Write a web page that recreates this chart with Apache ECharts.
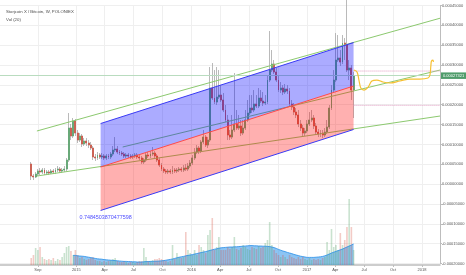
<!DOCTYPE html>
<html><head><meta charset="utf-8">
<script src="https://cdn.jsdelivr.net/npm/echarts@6/dist/echarts.min.js"></script>
<style>html,body{margin:0;padding:0;background:#fff}#c{width:466px;height:275px}</style>
</head><body><div id="c"></div>
<script>
// ---- data (prices in satoshi, 1e-8 BTC) ----
const firstWeek = '2014-08-11';
const opens = [5060,2040,1790,2540,3300,3050,3550,2800,3050,2800,
3300,3050,3550,3800,3300,3550,3800,6070,14130,12120,
15900,12870,11110,12120,10100,10860,10350,9850,9090,6830,
6580,7330,6830,7080,6580,7080,6830,7580,8590,8840,
8090,7830,7580,7080,7330,7080,6830,7080,7330,6830,
6580,5570,6070,7330,7080,7580,7830,7080,6070,4810,
3800,3300,3050,3300,3050,3550,3300,3550,3800,3550,
4060,3800,4560,5320,6580,8090,9090,8340,10610,11860,
9850,11110,24210,21690,20680,21940,22440,21190,18670,16150,
12370,11860,13630,15140,14130,14640,12870,14130,16150,17910,
19170,18670,20180,19670,21690,20930,20430,20680,26220,28740,
30250,28240,26220,23700,24210,23200,23960,23450,20180,19420,
18160,17410,15140,14130,12870,13380,15140,16150,16650,14640,
13120,12620,12870,12370,13120,14380,19170,23700,26220,31260,
31770,30760,35540,35040,28740,29250,23700];
const closes = [2040,1790,2540,3300,3050,3550,2800,3050,2800,3300,
3050,3550,3800,3300,3550,3800,6070,14130,12120,15900,
12870,11110,12120,10100,10860,10350,9850,9090,6830,6580,
7330,6830,7080,6580,7080,6830,7580,8590,8840,8090,
7830,7580,7080,7330,7080,6830,7080,7330,6830,6580,
5570,6070,7330,7080,7580,7830,7080,6070,4810,3800,
3300,3050,3300,3050,3550,3300,3550,3800,3550,4060,
3800,4560,5320,6580,8090,9090,8340,10610,11860,9850,
11110,24210,21690,20680,21940,22440,21190,18670,16150,12370,
11860,13630,15140,14130,14640,12870,14130,16150,17910,19170,
18670,20180,19670,21690,20930,20430,20680,26220,28740,30250,
28240,26220,23700,24210,23200,23960,23450,20180,19420,18160,
17410,15140,14130,12870,13380,15140,16150,16650,14640,13120,
12620,12870,12370,13120,14380,19170,23700,26220,31260,31770,
30760,35540,35040,28740,29250,23700,27321];
const highs = [5570,2540,3050,3800,4060,4060,4060,3550,3550,3800,
3800,4060,4560,4310,4060,4560,6580,17910,15140,16650,
16400,13630,12870,12620,11610,11610,11110,10610,9600,7580,
8090,7830,7830,7580,7580,7580,8090,9600,11860,9600,
8590,8340,8090,7830,7830,7580,7580,7830,7830,7330,
7080,6580,7830,8090,8340,9350,8340,7580,6580,5320,
4310,3800,3800,3800,4560,4060,4060,4310,4310,4810,
5060,5320,6070,7330,9090,9850,9600,11110,13630,12370,
11860,29500,30510,28740,29500,28740,24960,22950,19930,17410,
13630,17410,27990,18670,17410,16150,16150,18670,21190,22440,
22440,23700,22440,24210,23700,23200,22440,27480,38570,33780,
31260,29250,27480,25720,24960,25220,24960,24210,21190,20430,
19170,18670,16150,14890,14130,16150,18160,18670,17410,15390,
13880,13630,13630,14130,16150,19930,24960,28740,38060,37560,
33780,37560,36800,46380,31260,30000,28240];
const lows = [1030,1030,1540,2040,2290,2540,2290,2290,2290,2540,
2540,2540,3050,2800,2800,3050,3300,5570,11110,11610,
12120,10350,10610,9350,9600,9600,9090,8590,6070,5820,
6070,6320,6320,6070,6070,6320,6320,7080,8090,7580,
7330,7080,6580,6580,6580,6320,6320,6580,6320,6070,
5060,5060,5570,6580,6580,7080,6580,5570,4310,3300,
2800,2540,2540,2540,2540,2800,2800,3050,3050,3050,
3300,3300,4060,4810,6070,7580,7580,7830,10100,9350,
9090,10610,21190,20180,19930,21440,20680,18160,15640,11110,
11110,11360,13120,13630,13630,12120,12370,13630,15640,17410,
17910,18160,19170,19170,20430,19670,19930,20180,25720,28240,
27730,25720,23200,22950,22440,22700,22700,19670,18670,17410,
16650,14380,13380,12120,12120,12870,14640,15640,13880,12370,
11860,11860,11610,11860,12620,13880,18670,23200,25720,30760,
29750,30250,31260,28240,26220,21190,16650];
const volumes = [35,50,85,75,90,40,30,25,30,25,
35,20,30,25,40,60,90,95,70,50,
75,50,35,40,30,25,30,35,40,25,
20,20,15,20,15,20,25,30,35,20,
15,15,20,15,10,15,15,10,15,20,
20,85,40,20,20,25,30,30,35,30,
25,20,15,20,100,30,60,40,35,40,
165,75,60,50,75,50,100,90,75,60,
150,175,235,75,90,140,75,75,75,90,
80,90,140,80,75,85,100,90,80,75,
90,85,80,95,85,90,110,125,215,100,
75,60,50,40,50,40,30,50,40,35,
30,40,30,40,30,25,35,25,30,25,
30,25,35,40,115,75,180,90,100,75,
160,100,125,190,330,190,75];
const volMA = [null,null,null,null,null,null,null,null,null,null,
null,null,null,null,null,null,null,null,null,48,
48,46,45,44,43,41,39,37,35,33,
31,30,29,27,26,25,24,23,22,21,
20,19,18,18,17,17,16,16,15,15,
15,16,17,17,18,18,19,19,20,21,
22,24,26,28,30,33,36,39,41,43,
46,48,50,52,55,57,60,62,65,67,
70,73,76,79,81,84,86,87,88,89,
90,90,91,91,92,93,94,95,96,97,
97,96,96,95,95,94,94,93,92,90,
87,83,78,74,70,67,63,60,57,53,
50,47,44,42,40,38,38,38,38,39,
40,41,43,46,50,55,60,64,68,72,
76,80,85,90,95,100,105];

// drawings
const greenUpper = [['2014-08-29',13380],['2018-02-27',41790]];
const greenMid   = [['2015-05-28',9350],['2018-02-27',28740]];
const greenLower = [['2014-08-29',2040],['2018-02-27',17150]];
const regDates = ['2015-03-19','2017-05-29'];
const regUpper = [15260,35660];
const regMid   = [4310,24710];
const regLower = [-6640,13760];
const regR = '0.7484503870477598';
const levelHigh = 28490, levelLow = 19850;
const forecast = [['2017-05-30',28740],['2017-06-09',28240],['2017-06-15',26220],['2017-06-21',24210],
['2017-07-01',23700],['2017-07-14',24460],['2017-07-26',25970],['2017-08-11',26220],['2017-08-30',25720],
['2017-09-21',25470],['2017-10-23',25970],['2017-11-24',26470],['2017-12-25',26470],['2018-01-20',26730],
['2018-01-26',27480],['2018-01-29',29750],['2018-01-31',31010],['2018-02-05',31260],['2018-02-06',30760]];

const tickDates = ['2014-09-01','2015-01-01','2015-04-01','2015-07-01','2015-10-01','2016-01-01','2016-04-01',
'2016-07-01','2016-10-01','2017-01-01','2017-04-01','2017-07-01','2017-10-01','2018-01-01'];
const tickLabels = ['Sep','2015','Apr','Jul','Oct','2016','Apr','Jul','Oct','2017','Apr','Jul','Oct','2018'];
const xMin = '2014-05-04', xMax = '2018-02-27';
const titleText = 'Storjcoin X / Bitcoin, W, POLONIEX';
const volText = 'Vol (20)';

// ---- build ----
const P = s => echarts.number.parseDate(s).getTime();
const DAY = 86400000;
const t0 = P(firstWeek);
const times = opens.map((_, i) => t0 + i * 7 * DAY);
const tickTimes = tickDates.map(P);
const labelMap = {}; tickTimes.forEach((t, i) => labelMap[t] = tickLabels[i]);
const fmt = v => (v / 1e8).toFixed(8);

const UP = '#58a86b', DOWN = '#d2513f';
const wickData = times.map((t, i) => [t, opens[i], closes[i], lows[i], highs[i]]);
const bodyData = times.map((t, i) => [t, opens[i], closes[i], Math.min(opens[i], closes[i]), Math.max(opens[i], closes[i])]);
const volData = times.map((t, i) => ({value: [t, volumes[i]], itemStyle: {color: closes[i] >= opens[i] ? 'rgba(92,168,109,0.33)' : 'rgba(214,84,66,0.3)'}}));
const maData = times.map((t, i) => [t, volMA[i]]);
const lastClose = closes[closes.length - 1];

const GREEN = '#8cc96f';
function seg(pts, color, z, type) {
  return {type: 'line', xAxisIndex: 0, yAxisIndex: 0, data: pts.map(p => [P(p[0]), p[1]]), showSymbol: false, symbol: 'none',
    silent: true, z: z, lineStyle: {color: color, width: 1, type: type || 'solid'}, animation: false};
}

const option = {
  animation: false,
  backgroundColor: '#ffffff',
  textStyle: {fontFamily: 'Liberation Sans, Arial, sans-serif'},
  title: [
    {text: titleText, left: 1, top: 4.5, textStyle: {fontSize: 4.3, color: '#4a4a4a', fontWeight: 'normal'}},
    {text: volText, left: 1, top: 12.5, textStyle: {fontSize: 4.3, color: '#4a4a4a', fontWeight: 'normal'}}
  ],
  grid: [
    {left: 0, right: 26, top: 5.5, height: 258, containLabel: false, outerBoundsMode: 'none'},
    {left: 0, right: 26, top: 175, height: 90, containLabel: false, outerBoundsMode: 'none'}
  ],
  xAxis: [
    {type: 'value', min: P(xMin), max: P(xMax), gridIndex: 0, offset: 1.5,
      axisLine: {onZero: false, lineStyle: {color: '#bdbdbd', width: 1.5}},
      axisTick: {show: true, customValues: tickTimes, length: 2, lineStyle: {color: '#bdbdbd'}},
      axisLabel: {customValues: tickTimes, fontSize: 4, color: '#555', margin: 3,
        formatter: (v, idx) => labelMap[v] != null ? labelMap[v] : (tickLabels[idx] || '')},
      splitLine: {show: true, lineStyle: {color: '#efefef', width: 1}}},
    {type: 'value', min: P(xMin), max: P(xMax), gridIndex: 1, show: false, splitLine: {show: false}}
  ],
  yAxis: [
    {type: 'value', position: 'right', min: -20000, max: 45000, interval: 5000, gridIndex: 0,
      axisLine: {show: true, lineStyle: {color: '#bdbdbd', width: 1}},
      axisTick: {show: true, length: 2, lineStyle: {color: '#bdbdbd'}},
      axisLabel: {fontSize: 4, color: '#555', margin: 2, formatter: fmt},
      splitLine: {show: true, lineStyle: {color: '#efefef', width: 1}}},
    {type: 'value', min: 0, max: 450, gridIndex: 1, show: false, splitLine: {show: false}}
  ],
  series: [
    {type: 'bar', name: 'vol', xAxisIndex: 1, yAxisIndex: 1, data: volData, barWidth: 1.6, z: 1, silent: true},
    {type: 'line', name: 'volma', xAxisIndex: 1, yAxisIndex: 1, data: maData, showSymbol: false, symbol: 'none', z: 1,
      lineStyle: {color: 'rgba(30,136,229,0.75)', width: 1}, areaStyle: {color: 'rgba(70,160,235,0.62)', opacity: 1}, silent: true},
    {type: 'candlestick', name: 'wick', xAxisIndex: 0, yAxisIndex: 0, data: wickData, barWidth: 1.4, clip: false, z: 2, silent: true,
      itemStyle: {color: '#a8a8a8', color0: '#a8a8a8', borderColor: '#a8a8a8', borderColor0: '#a8a8a8', borderWidth: 0.8}},
    {type: 'candlestick', name: 'body', xAxisIndex: 0, yAxisIndex: 0, data: bodyData, barWidth: 1.4, clip: false, z: 3, silent: true,
      itemStyle: {color: UP, color0: DOWN, borderColor: UP, borderColor0: DOWN, borderWidth: 0.6},
      markLine: {silent: true, symbol: 'none', animation: false,
        lineStyle: {color: '#b9dcbf', type: 'solid', width: 1},
        label: {show: true, position: 'end', distance: 1, formatter: p => fmt(p.value), color: '#fff', fontSize: 4,
          backgroundColor: '#4f9c6b', padding: [1.5, 2, 1, 2]},
        data: [{yAxis: lastClose}]}},
    seg(greenUpper, GREEN, 4), seg(greenMid, GREEN, 4), seg(greenLower, GREEN, 4),
    {type: 'custom', xAxisIndex: 0, yAxisIndex: 0, z: 5, silent: true,
      renderItem: (params, api) => {
        const pts = [api.coord([api.value(0), api.value(2)]), api.coord([api.value(1), api.value(3)]),
          api.coord([api.value(1), api.value(5)]), api.coord([api.value(0), api.value(4)])];
        return {type: 'polygon', shape: {points: pts},
          style: {fill: params.dataIndex === 0 ? 'rgba(0,0,255,0.33)' : 'rgba(255,0,0,0.31)'}};
      },
      encode: {x: [0, 1], y: [2, 3, 4, 5]},
      data: [[P(regDates[0]), P(regDates[1]), regUpper[0], regUpper[1], regMid[0], regMid[1]],
             [P(regDates[0]), P(regDates[1]), regMid[0], regMid[1], regLower[0], regLower[1]]]},
    seg([[regDates[0], regUpper[0]], [regDates[1], regUpper[1]]], '#3a3af5', 6),
    seg([[regDates[0], regMid[0]], [regDates[1], regMid[1]]], '#ff4a4a', 6),
    Object.assign(seg([[regDates[0], regLower[0]], [regDates[1], regLower[1]]], '#3a3af5', 6), {
      markPoint: {silent: true, symbol: 'circle', symbolSize: 0.01, animation: false,
        label: {show: true, position: 'inside', offset: [5, 7.5], formatter: regR, color: '#4d4dff', fontSize: 5.4},
        data: [{coord: [P(regDates[0]), regLower[0]]}]}}),
    seg([[regDates[1], levelHigh], [xMax, levelHigh]], '#e09ac0', 6, 'dotted'),
    seg([[regDates[1], levelLow], [xMax, levelLow]], '#e09ac0', 6, 'dotted'),
    Object.assign(seg(forecast, '#f6c033', 7), {smooth: 0.35, lineStyle: {color: '#f6c033', width: 1.2}})
  ]
};
const chart = echarts.init(document.getElementById('c'), null, {renderer: 'canvas'});
chart.setOption(option);
</script></body></html>
